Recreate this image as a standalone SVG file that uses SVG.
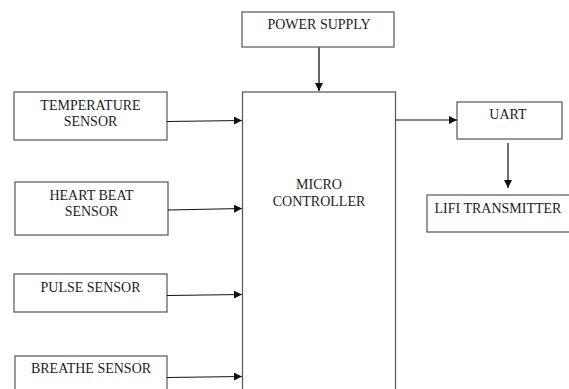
<svg xmlns="http://www.w3.org/2000/svg" width="569" height="389" viewBox="0 0 569 389">
<style>
.box{fill:#fff;stroke:#555;stroke-width:1.2}
.t{font-family:"Liberation Serif","Times New Roman",serif;font-size:14px;fill:#1c1c28;text-anchor:middle}
.c{stroke:#111;stroke-width:1.2;fill:none;marker-end:url(#ah)}
</style>
<defs>
<marker id="ah" viewBox="0 0 10 10" refX="10" refY="5" markerWidth="8" markerHeight="8" markerUnits="userSpaceOnUse" orient="auto">
<path d="M0,0 L10,5 L0,10 z" fill="#111"/>
</marker>
</defs>
<rect width="569" height="389" fill="#fff"/>
<g id="power"><rect class="box" x="242" y="12" width="152" height="35"/><text class="t" x="319" y="29">POWER SUPPLY</text></g>
<g id="micro"><rect class="box" x="242.5" y="92" width="153" height="310"/><text class="t" x="319" y="189">MICRO</text><text class="t" x="319" y="206">CONTROLLER</text></g>
<g id="temp"><rect class="box" x="14" y="92" width="153" height="48"/><text class="t" x="90.5" y="110">TEMPERATURE</text><text class="t" x="90.5" y="126">SENSOR</text></g>
<g id="heart"><rect class="box" x="15" y="182" width="153" height="53"/><text class="t" x="91.5" y="200">HEART BEAT</text><text class="t" x="91.5" y="216">SENSOR</text></g>
<g id="pulse"><rect class="box" x="14" y="274" width="153" height="38"/><text class="t" x="90.5" y="292">PULSE SENSOR</text></g>
<g id="breathe"><rect class="box" x="15" y="356" width="152" height="50"/><text class="t" x="91" y="373">BREATHE SENSOR</text></g>
<g id="uart"><rect class="box" x="457" y="102" width="105" height="37"/><text class="t" x="508" y="119">UART</text></g>
<g id="lifi"><rect class="box" x="427" y="195" width="150" height="37"/><text class="t" x="498" y="213">LIFI TRANSMITTER</text></g>
<g id="connectors">
<path class="c" d="M319,47 L319,91" stroke="#666" style="stroke:#666;stroke-width:2"/>
<path class="c" d="M167,121.5 L242,120.5"/>
<path class="c" d="M168,210 L242,208.5"/>
<path class="c" d="M167,295.5 L242,294.5"/>
<path class="c" d="M167,377.5 L242,376.5"/>
<path class="c" d="M395.5,120 L457,120"/>
<path class="c" d="M508,143 L508,188"/>
</g>
</svg>
